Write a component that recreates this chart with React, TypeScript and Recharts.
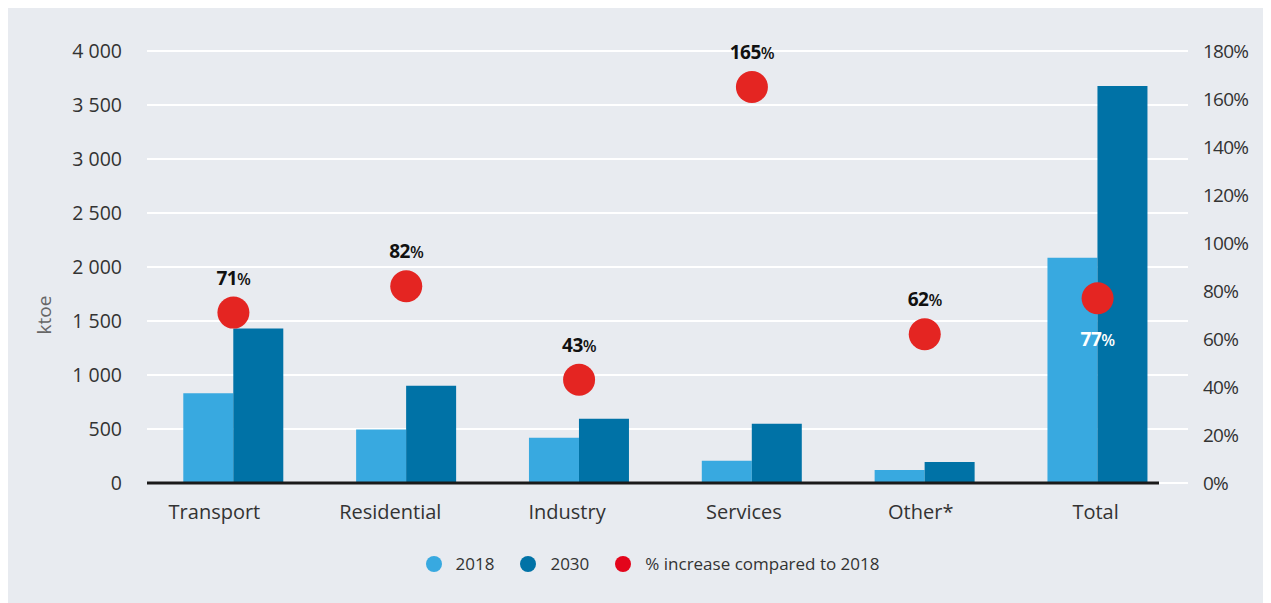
import React from 'react';
import { ComposedChart, Bar, Line, XAxis, YAxis, CartesianGrid, ReferenceLine, Legend, LabelList } from 'recharts';

const categories = ['Transport', 'Residential', 'Industry', 'Services', 'Other*', 'Total'];
const values2018 = [830, 495, 420, 205, 120, 2085];
const values2030 = [1430, 900, 595, 548, 195, 3675];
const pctIncrease = [71, 82, 43, 165, 62, 77];
const leftTicks = [0, 500, 1000, 1500, 2000, 2500, 3000, 3500, 4000];
const rightTicks = [0, 20, 40, 60, 80, 100, 120, 140, 160, 180];

const COLOR_2018 = '#38a9e0';
const COLOR_2030 = '#0072a6';
const COLOR_DOT = '#e42522';
const FONT = '"Open Sans", Lato, sans-serif';
// category labels in the original drift left of their bar pairs
const LABEL_SHIFT = [-19, -16, -12, -8, -4, -2];

const data = categories.map((name, i) => ({
  name,
  y2018: values2018[i],
  y2030: values2030[i],
  pct: pctIncrease[i],
}));

const legendItems = [
  { label: '2018', color: COLOR_2018 },
  { label: '2030', color: COLOR_2030 },
  { label: '% increase compared to 2018', color: '#e3051b' },
];

const formatThousands = (v: number) => (v >= 1000 ? `${Math.floor(v / 1000)} ${String(v % 1000).padStart(3, '0')}` : String(v));

const Dot = (props: any) => {
  const { cx, cy, index } = props;
  if (cx == null || cy == null) return null;
  return <circle key={`dot-${index}`} cx={cx} cy={cy} r={16} fill={COLOR_DOT} />;
};

const PctLabel = (props: any) => {
  const { x, y, value, index } = props;
  // the Total label sits inside the bar, in white, under the dot
  const inside = index === categories.length - 1;
  return (
    <text
      x={x}
      y={inside ? y + 48 : y - 28}
      textAnchor="middle"
      fill={inside ? '#ffffff' : '#111111'}
      fontFamily={FONT}
      fontSize={19}
      fontWeight={700}
      letterSpacing={-0.5}
    >
      {value}
      <tspan fontSize={16} fontWeight={600}>%</tspan>
    </text>
  );
};

const CategoryTick = (props: any) => {
  const { x, y, payload, index } = props;
  return (
    <text x={x + (LABEL_SHIFT[index] || 0)} y={y} dy="0.71em" textAnchor="middle" fill="#333333" fontFamily={FONT} fontSize={20}>
      {payload.value}
    </text>
  );
};

const Baseline = (props: any) => {
  const { x1, y1, x2 } = props;
  return <line x1={x1} y1={y1} x2={x2 - 29} y2={y1} stroke="#1a1a1a" strokeWidth={3} />;
};

const YLabel = (props: any) => {
  const { viewBox } = props;
  const x = viewBox.x + 43;
  const y = viewBox.y + 264;
  return (
    <text x={x} y={y} transform={`rotate(-90, ${x}, ${y})`} textAnchor="middle" fill="#666666" fontFamily={FONT} fontSize={19}>
      ktoe
    </text>
  );
};

const LegendContent = () => (
  <div style={{ display: 'flex', justifyContent: 'center', alignItems: 'center', paddingLeft: 52, fontFamily: FONT, fontSize: 17, color: '#333' }}>
    {legendItems.map(item => (
      <div key={item.label} style={{ display: 'flex', alignItems: 'center', marginRight: 26 }}>
        <span style={{ width: 16, height: 16, borderRadius: 8, background: item.color, marginRight: 14, display: 'inline-block' }} />
        <span>{item.label}</span>
      </div>
    ))}
  </div>
);

export default function App() {
  return (
    <div style={{ width: 1263, height: 595, background: '#e8ebf0' }}>
      <ComposedChart
        width={1263}
        height={595}
        data={data}
        margin={{ top: 43, right: 0, left: 0, bottom: 0 }}
        barGap={0}
        barCategoryGap="21%"
      >
        <CartesianGrid vertical={false} stroke="#ffffff" strokeWidth={2} yAxisId="left" />
        <XAxis
          dataKey="name"
          height={120}
          axisLine={false}
          tickLine={false}
          tickSize={0}
          tickMargin={22}
          padding={{ left: 0, right: 4 }}
          tick={<CategoryTick />}
        />
        <YAxis
          yAxisId="left"
          width={139}
          domain={[0, 4000]}
          ticks={leftTicks}
          axisLine={false}
          tickLine={false}
          tickSize={0}
          tickMargin={25}
          tickFormatter={formatThousands}
          tick={{ fontSize: 19.5, fill: '#333333', fontFamily: FONT }}
          label={<YLabel />}
        />
        <YAxis
          yAxisId="right"
          orientation="right"
          width={83}
          domain={[0, 180]}
          ticks={rightTicks}
          axisLine={false}
          tickLine={false}
          tickSize={0}
          tickMargin={15}
          tickFormatter={(v: number) => `${v}%`}
          tick={{ fontSize: 19, fill: '#333333', fontFamily: FONT, textAnchor: 'start', letterSpacing: -0.8 }}
        />
        <Bar yAxisId="left" dataKey="y2018" name="2018" fill={COLOR_2018} isAnimationActive={false} />
        <Bar yAxisId="left" dataKey="y2030" name="2030" fill={COLOR_2030} isAnimationActive={false} />
        <ReferenceLine yAxisId="left" y={0} shape={<Baseline />} />
        <Line
          yAxisId="right"
          dataKey="pct"
          name="% increase compared to 2018"
          stroke="none"
          dot={<Dot />}
          activeDot={false}
          isAnimationActive={false}
        >
          <LabelList dataKey="pct" content={<PctLabel />} />
        </Line>
        <Legend
          layout="horizontal"
          verticalAlign="middle"
          align="center"
          content={<LegendContent />}
          wrapperStyle={{ top: 544, left: 0, width: 1263 }}
        />
      </ComposedChart>
    </div>
  );
}
